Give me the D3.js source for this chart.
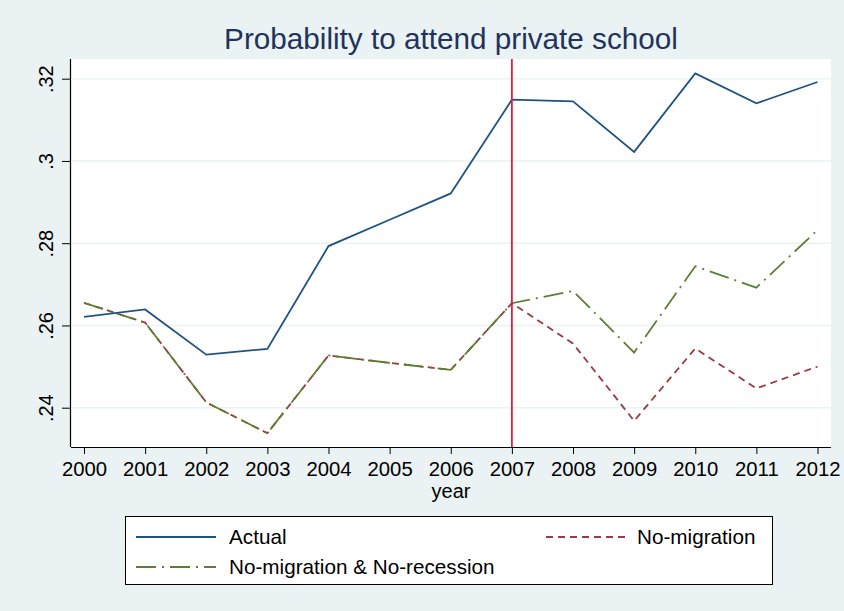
<!DOCTYPE html>
<html><head><meta charset="utf-8">
<script src="https://cdn.jsdelivr.net/npm/d3@7"></script>
<style>
html,body{margin:0;padding:0;background:#eaf2f3;}
svg{display:block;font-family:"Liberation Sans",Arial,Helvetica,sans-serif;}
</style></head>
<body>
<svg id="chart" width="844" height="611"></svg>
<script>
const years = [2000,2001,2002,2003,2004,2005,2006,2007,2008,2009,2010,2011,2012];
const actual = [0.2621,0.2639,0.2529,0.2543,0.2793,0.2857,0.2921,0.3149,0.3145,0.3022,0.3213,0.3140,0.3192];
const noMigration = [0.2655,0.2607,0.2413,0.2338,0.2527,0.2509,0.2492,0.2654,0.2556,0.2368,0.2544,0.2447,0.2500];
const noMigNoRec = [0.2655,0.2607,0.2413,0.2338,0.2527,0.2509,0.2492,0.2654,0.2684,0.2534,0.2744,0.2692,0.2832];
const yTicks = [0.24,0.26,0.28,0.30,0.32];
const yTickLabels = [".24",".26",".28",".3",".32"];
const title = "Probability to attend private school";
const xTitle = "year";
const cutYear = 2007;
const seriesNames = ["Actual","No-migration","No-migration & No-recession"];

const FONT = "'Liberation Sans',Arial,Helvetica,sans-serif";
const svg = d3.select("#chart");
const W = 844, H = 611;
svg.append("rect").attr("width",W).attr("height",H).attr("fill","#eaf2f3");

const plot = {left:71, right:831, top:59, bottom:447};
svg.append("rect").attr("x",plot.left).attr("y",plot.top)
  .attr("width",plot.right-plot.left).attr("height",plot.bottom-plot.top).attr("fill","#ffffff");

const x = d3.scaleLinear().domain([2000,2012]).range([84,817.5]);
const y = d3.scaleLinear().domain([0.24,0.32]).range([407.7,78.7]);

// grid
svg.append("g").selectAll("line").data(yTicks).join("line")
  .attr("x1",plot.left).attr("x2",plot.right)
  .attr("y1",d=>y(d)).attr("y2",d=>y(d))
  .attr("stroke","#eaf2f3").attr("stroke-width",1.5);

// axes
const xAxis = d3.axisBottom(x).tickValues(years).tickFormat(d3.format("d")).tickSize(7).tickSizeOuter(0);
const gx = svg.append("g").attr("transform",`translate(0,${plot.bottom})`).call(xAxis);
gx.select(".domain").attr("d",`M${plot.left},0.5H${plot.right}`).attr("stroke","#000").attr("stroke-width",1.2);
gx.selectAll(".tick line").attr("stroke","#000").attr("stroke-width",1);
gx.selectAll(".tick text").attr("font-size",20.3).attr("fill","#000")
  .attr("y",29).attr("dy",0).attr("font-family",FONT);

const yAxis = d3.axisLeft(y).tickValues(yTicks).tickFormat((d,i)=>yTickLabels[i]).tickSize(9).tickSizeOuter(0);
const gy = svg.append("g").attr("transform",`translate(${plot.left},0)`).call(yAxis);
gy.select(".domain").attr("d",`M-0.5,${plot.top}V${plot.bottom}`).attr("stroke","#000").attr("stroke-width",1.2);
gy.selectAll(".tick line").attr("stroke","#000").attr("stroke-width",1);
gy.selectAll(".tick text").attr("font-size",20).attr("fill","#000")
  .attr("font-family",FONT)
  .attr("text-anchor","middle").attr("x",0).attr("dy",0)
  .attr("transform","translate(-18,0) rotate(-90)");

// title
svg.append("text").attr("x",451).attr("y",49).attr("text-anchor","middle")
  .attr("font-size",29.7).attr("fill","#1f335c").text(title);
svg.append("text").attr("x",451).attr("y",498).attr("text-anchor","middle")
  .attr("font-size",20).attr("fill","#000").text(xTitle);

// lines
const line = d3.line().x((d,i)=>x(years[i])).y(d=>y(d));
const styles = [
  {color:"#1f5381", dash:null},
  {color:"#9a3a42", dash:"7,5"},
  {color:"#5e7f32", dash:"20,6,2,6"}
];
svg.append("path").datum(noMigration).attr("d",line).attr("fill","none")
  .attr("stroke",styles[1].color).attr("stroke-width",1.8).attr("stroke-dasharray",styles[1].dash);
svg.append("path").datum(noMigNoRec).attr("d",line).attr("fill","none")
  .attr("stroke",styles[2].color).attr("stroke-width",1.8).attr("stroke-dasharray",styles[2].dash);
svg.append("path").datum(actual).attr("d",line).attr("fill","none")
  .attr("stroke",styles[0].color).attr("stroke-width",1.8);

// vertical line
svg.append("line").attr("x1",x(cutYear)).attr("x2",x(cutYear))
  .attr("y1",plot.top).attr("y2",plot.bottom)
  .attr("stroke","#dc1f40").attr("stroke-width",1.8);

// legend
const lg = svg.append("g");
lg.append("rect").attr("x",125.5).attr("y",516.5).attr("width",647).attr("height",68)
  .attr("fill","#ffffff").attr("stroke","#000").attr("stroke-width",1);
const legendItems = [
  {name:seriesNames[0], s:styles[0], lx:136, len:80, tx:229, y:537},
  {name:seriesNames[1], s:styles[1], lx:546, len:80, tx:637, y:537},
  {name:seriesNames[2], s:styles[2], lx:136, len:80, tx:229, y:567}
];
legendItems.forEach(it=>{
  lg.append("line").attr("x1",it.lx).attr("x2",it.lx+it.len)
    .attr("y1",it.y).attr("y2",it.y).attr("stroke",it.s.color).attr("stroke-width",1.8)
    .attr("stroke-dasharray",it.s.dash);
  lg.append("text").attr("x",it.tx).attr("y",it.y+7).attr("font-family",FONT)
    .attr("font-size",20.7).attr("fill","#000").text(it.name);
});
</script>
</body></html>
